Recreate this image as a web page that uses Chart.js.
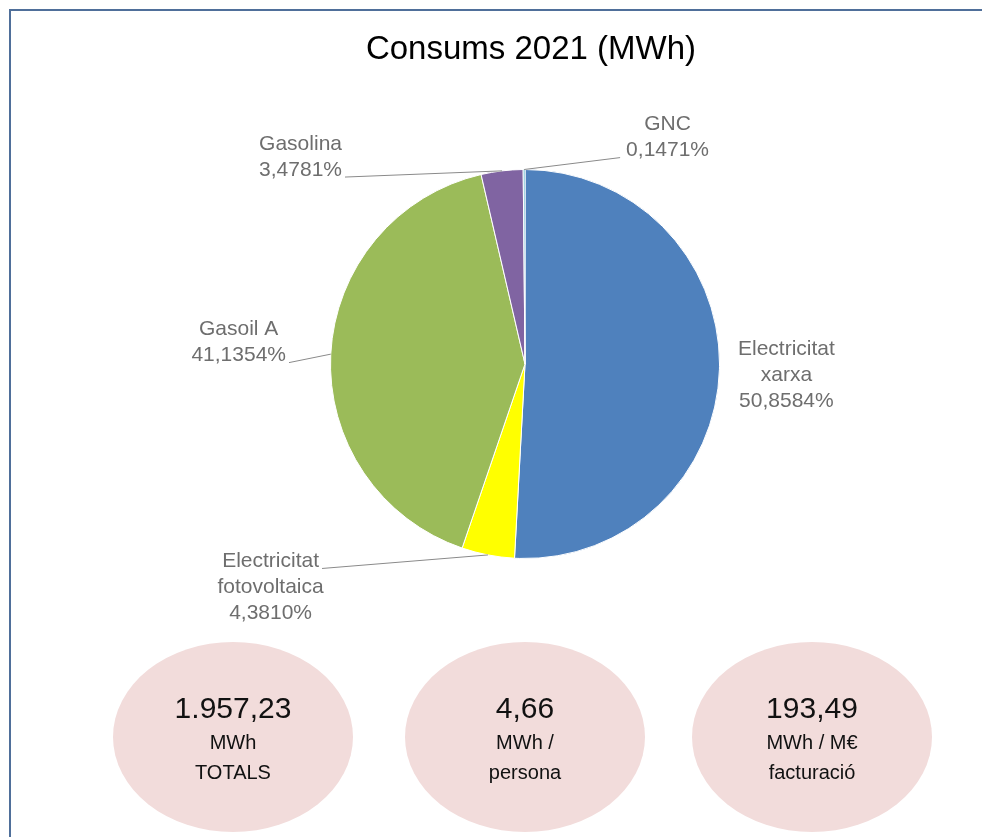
<!DOCTYPE html>
<html>
<head>
<meta charset="utf-8">
<script src="https://cdn.jsdelivr.net/npm/chart.js@4.4.1/dist/chart.umd.min.js"></script>
<style>
html, body { margin: 0; padding: 0; background: #fff; }
#wrap { position: relative; width: 982px; height: 837px; overflow: hidden; font-family: "Liberation Sans", Arial, sans-serif; }
#frame { position: absolute; left: 9px; top: 9px; width: 1000px; height: 900px; border: 2px solid #4f6f9a; }
#title { position: absolute; left: 0; width: 1062px; top: 29px; text-align: center; font-size: 33px; line-height: 38px; color: #000; }
canvas { position: absolute; left: 0; top: 0; }
.bubble { position: absolute; top: 642px; width: 240px; height: 190px; border-radius: 50%; background: #f2dcdb; color: #111; text-align: center; }
.bubble div { position: absolute; left: 0; width: 100%; }
.big { top: 50px; font-size: 30px; line-height: 32px; }
.s1 { top: 89px; font-size: 20px; line-height: 22px; }
.s2 { top: 119px; font-size: 20px; line-height: 22px; }
</style>
</head>
<body>
<div id="wrap">
  <div id="frame"></div>
  <canvas id="pie" width="982" height="837"></canvas>
  <div id="title">Consums 2021 (MWh)</div>
</div>
<script>
// dades
const categories = ['Electricitat xarxa', 'Electricitat fotovoltaica', 'Gasoil A', 'Gasolina', 'GNC'];
const values = [50.8584, 4.3810, 41.1354, 3.4781, 0.1471];
const colors = ['#4f81bd', '#ffff00', '#9bbb59', '#8064a2', '#4bacc6'];

const bubbleValues = ['1.957,23', '4,66', '193,49'];
const bubbleUnits = [['MWh', 'TOTALS'], ['MWh /', 'persona'], ['MWh / M€', 'facturació']];
const bubbleLeft = [113, 405, 692];

// posicio de les etiquetes, en radis respecte del centre
const labelLayout = [
  { dx: 1.344, dy: 0.056, line: null },
  { dx: -1.308, dy: 1.149, line: 0, side: 'right' },
  { dx: -1.472, dy: -0.110, line: 1, side: 'right' },
  { dx: -1.154, dy: -1.064, line: 1, side: 'right' },
  { dx: 0.733, dy: -1.164, line: 1, side: 'left' }
];
const lineH = 26;

const labelLines = categories.map((c) => c.startsWith('Electricitat ') ? ['Electricitat', c.slice(13)] : [c]);
const pctText = (v) => v.toFixed(4).replace('.', ',') + '%';

const sliceLabels = {
  id: 'sliceLabels',
  afterDatasetsDraw(chart) {
    const ctx = chart.ctx;
    const meta = chart.getDatasetMeta(0);
    ctx.save();
    ctx.font = '21px "Liberation Sans", Arial, sans-serif';
    ctx.fillStyle = '#6e6e6e';
    ctx.strokeStyle = '#8a8a8a';
    ctx.lineWidth = 1;
    ctx.textAlign = 'center';
    ctx.textBaseline = 'middle';
    meta.data.forEach((arc, i) => {
      const p = arc.getProps(['x', 'y', 'startAngle', 'endAngle', 'outerRadius'], true);
      const r = p.outerRadius;
      const mid = (p.startAngle + p.endAngle) / 2;
      const ax = p.x + Math.cos(mid) * r;
      const ay = p.y + Math.sin(mid) * r;
      const lay = labelLayout[i];
      const lines = labelLines[i].concat(pctText(values[i]));
      const cx = p.x + lay.dx * r;
      const cy = p.y + lay.dy * r;
      const top = cy - (lines.length - 1) * lineH / 2;
      lines.forEach((t, k) => ctx.fillText(t, cx, top + k * lineH));
      if (lay.line !== null) {
        const ly = top + lay.line * lineH + 7;
        const w = ctx.measureText(lines[lay.line]).width;
        const ex = lay.side === 'right' ? cx + w / 2 + 3 : cx - w / 2 - 6;
        ctx.beginPath();
        ctx.moveTo(ax, ay);
        ctx.lineTo(ex, ly);
        ctx.stroke();
      }
    });
    ctx.restore();
  }
};

new Chart(document.getElementById('pie'), {
  type: 'pie',
  data: {
    labels: categories,
    datasets: [{
      data: values,
      backgroundColor: colors,
      borderColor: '#ffffff',
      borderWidth: 1
    }]
  },
  options: {
    responsive: false,
    animation: false,
    layout: { padding: { left: 330, right: 262, top: 169, bottom: 278 } },
    plugins: {
      legend: { display: false },
      tooltip: { enabled: false }
    }
  },
  plugins: [sliceLabels]
});

// bombolles
const wrap = document.getElementById('wrap');
bubbleValues.forEach((v, i) => {
  const b = document.createElement('div');
  b.className = 'bubble';
  b.style.left = bubbleLeft[i] + 'px';
  b.innerHTML = '<div class="big">' + v + '</div><div class="s1">' + bubbleUnits[i][0] + '</div><div class="s2">' + bubbleUnits[i][1] + '</div>';
  wrap.appendChild(b);
});
</script>
</body>
</html>
